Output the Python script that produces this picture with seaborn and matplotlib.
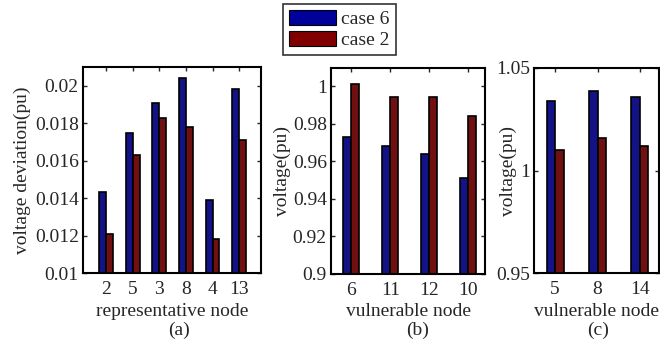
import matplotlib
matplotlib.use('Agg')
import matplotlib.pyplot as plt
import seaborn as sns
import pandas as pd

# panel (a): voltage deviation at representative nodes
nodes_a = ['2', '5', '3', '8', '4', '13']
case6_a = [0.0143, 0.0175, 0.0191, 0.0204, 0.0139, 0.0198]
case2_a = [0.0121, 0.0163, 0.0183, 0.0178, 0.0118, 0.0171]

# panel (b): voltage at vulnerable nodes
nodes_b = ['6', '11', '12', '10']
case6_b = [0.973, 0.968, 0.964, 0.951]
case2_b = [1.001, 0.994, 0.994, 0.984]

# panel (c): voltage at vulnerable nodes
nodes_c = ['5', '8', '14']
case6_c = [1.034, 1.039, 1.036]
case2_c = [1.010, 1.016, 1.012]

series = ['case 6', 'case 2']
colors = ['#00009a', '#800000']

sns.set_style('ticks')
plt.rcParams['font.family'] = ['Liberation Serif', 'DejaVu Serif']
plt.rcParams['font.size'] = 14


def to_long(nodes, v6, v2):
    return pd.DataFrame({
        'node': nodes * 2,
        'value': v6 + v2,
        'case': [series[0]] * len(nodes) + [series[1]] * len(nodes),
    })


W, H = 660, 343
fig = plt.figure(figsize=(W / 100, H / 100), dpi=100)


def px_axes(left, right, top, bottom):
    return fig.add_axes([left / W, 1 - bottom / H, (right - left) / W, (bottom - top) / H])


def draw(ax, box, nodes, v6, v2, ylim, yticks, yticklabels, xlim, ylabel, ylab_x, xlabel, width):
    left, right, top, bottom = box
    df = to_long(nodes, v6, v2)
    sns.barplot(data=df, x='node', y='value', hue='case', order=nodes,
                hue_order=series, palette=colors, edgecolor='black',
                linewidth=1.2, width=width, ax=ax, legend=False)
    ax.set_ylim(*ylim)
    ax.set_xlim(*xlim)
    ax.set_yticks(yticks)
    ax.set_yticklabels(yticklabels)
    ax.set_ylabel(ylabel)
    ax.set_xlabel(xlabel)
    ax.yaxis.set_label_coords((ylab_x - left) / (right - left), 0.5)
    ax.yaxis.label.set_va('center')
    ax.xaxis.set_label_coords(0.5, (bottom - 311) / (bottom - top))
    ax.xaxis.label.set_va('center')
    ax.tick_params(direction='in', top=True, right=True, length=3, width=1)
    ax.tick_params(axis='y', pad=3)
    ax.tick_params(axis='x', pad=6)
    for s in ax.spines.values():
        s.set_linewidth(1.5)
        s.set_color('black')


box_a = (83, 261, 67, 273)
ax_a = px_axes(*box_a)
draw(ax_a, box_a, nodes_a, case6_a, case2_a, (0.01, 0.021),
     [0.01, 0.012, 0.014, 0.016, 0.018, 0.02],
     ['0.01', '0.012', '0.014', '0.016', '0.018', '0.02'],
     (-0.87, 5.82), 'voltage deviation(pu)', 22, 'representative node', 0.52)

box_b = (331, 485, 68, 274)
ax_b = px_axes(*box_b)
draw(ax_b, box_b, nodes_b, case6_b, case2_b, (0.9, 1.0096),
     [0.9, 0.92, 0.94, 0.96, 0.98, 1.0],
     ['0.9', '0.92', '0.94', '0.96', '0.98', '1'],
     (-0.52, 3.43), 'voltage(pu)', 282, 'vulnerable node', 0.4)

box_c = (534, 659, 68, 273)
ax_c = px_axes(*box_c)
draw(ax_c, box_c, nodes_c, case6_c, case2_c, (0.95, 1.05),
     [0.95, 1.0, 1.05], ['0.95', '1', '1.05'],
     (-0.5, 2.45), 'voltage(pu)', 508, 'vulnerable node', 0.4)

for x, lab in [(179, '(a)'), (418, '(b)'), (598, '(c)')]:
    fig.text(x / W, 1 - 330 / H, lab, ha='center', va='center', fontsize=14)

handles = [plt.Rectangle((0, 0), 1, 1, facecolor=c, edgecolor='black', linewidth=0.8)
           for c in colors]
leg = fig.legend(handles, series, loc='upper left',
                 bbox_to_anchor=(283 / W, 1 - 4 / H), frameon=True,
                 fancybox=False, edgecolor='black', handlelength=2.4,
                 handleheight=0.8, borderpad=0.3, labelspacing=0.15,
                 handletextpad=0.3, borderaxespad=0, fontsize=14)
leg.get_frame().set_linewidth(1.2)

fig.savefig('out.png', dpi=100)
